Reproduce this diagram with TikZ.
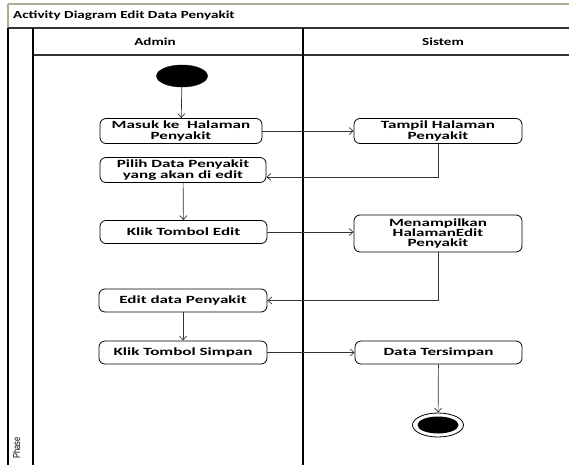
\documentclass[tikz,border=0pt]{standalone}
\usepackage{fontspec}
\usetikzlibrary{arrows.meta,shapes.geometric}
\newfontfamily\lblfont[FakeStretch=1.4]{Carlito}
\newfontfamily\actfont[FakeStretch=1.55]{Carlito}
\newfontfamily\phasefont[FakeStretch=0.75]{Liberation Sans}
\definecolor{frameg}{HTML}{A3B093}
\definecolor{edgec}{HTML}{333333}
\tikzset{
  actbox/.style={draw=black, line width=0.8pt, rounded corners=6pt,
    minimum height=24pt, inner sep=0.5pt, align=center,
    font=\actfont\bfseries\fontsize{11}{10.5}\selectfont},
  lane/.style={line width=1.4pt, black},
  flow/.style={draw=edgec, line width=0.7pt,
    -{Straight Barb[length=4pt,width=7pt]}},
  hdr/.style={font=\lblfont\bfseries\fontsize{10.8}{12}\selectfont, inner sep=0pt}
}
\begin{document}
\begin{tikzpicture}[x=1pt,y=-1pt]
  \useasboundingbox (0,0) rectangle (569,465);
  % swimlane frame
  \draw[frameg, line width=1.4pt] (8,4) -- (569,4);
  \draw[frameg, line width=1.3pt] (8,4) -- (8,28);
  \draw[lane] (8,28) -- (8,465);
  \draw[edgec, line width=1.3pt] (8,28) -- (569,28);
  \draw[edgec, line width=1.1pt] (33,55) -- (569,55);
  \draw[lane] (33,28) -- (33,465);
  \draw[lane] (303,28) -- (303,465);
  % headings
  \node[hdr, anchor=west] (title) at (13,16) {Activity Diagram Edit Data Penyakit};
  \node[hdr] (admin) at (155,42) {Admin};
  \node[hdr] (sistem) at (443,42) {Sistem};
  \node[font=\phasefont\fontsize{10}{11}\selectfont, rotate=90, inner sep=0pt] (phase) at (16.5,448) {Phase};
  % start and end
  \node[draw, fill=black, ellipse, minimum width=51pt, minimum height=22pt, inner sep=0pt] (start) at (182,76) {};
  \node[draw, line width=0.8pt, ellipse, minimum width=51pt, minimum height=24pt, inner sep=0pt] (stop) at (438,425) {};
  \node[fill=black, ellipse, minimum width=41pt, minimum height=17pt, inner sep=0pt] (stopin) at (438,425) {};
  % activities (Admin)
  \node[actbox, minimum width=162pt, minimum height=25pt] (masuk) at (181,131) {Masuk ke\ \ Halaman\\Penyakit};
  \node[actbox, minimum width=166pt, minimum height=25pt] (pilih) at (183,170) {Pilih Data Penyakit\\yang akan di edit};
  \node[actbox, minimum width=167pt, minimum height=23pt] (edit) at (183.5,232) {Klik Tombol Edit};
  \node[actbox, minimum width=168pt, minimum height=23pt] (editdata) at (183,300.5) {Edit data Penyakit};
  \node[actbox, minimum width=168pt, minimum height=23pt] (simpan) at (183,352.5) {Klik Tombol Simpan};
  % activities (Sistem)
  \node[actbox, minimum width=168pt, minimum height=25pt] (tampil) at (438,131) {Tampil Halaman\\Penyakit};
  \node[actbox, minimum width=168pt, minimum height=37pt, font=\actfont\bfseries\fontsize{11}{10}\selectfont] (menampilkan) at (438,233.5) {Menampilkan\\HalamanEdit\\Penyakit};
  \node[actbox, minimum width=167pt, minimum height=23pt] (tersimpan) at (438.5,352.5) {Data Tersimpan};
  % flows
  \draw[flow] (start) -- (masuk);
  \draw[flow] (masuk) -- (tampil);
  \draw[flow] (tampil.south) |- ([yshift=-7pt]pilih.east);
  \draw[flow] (pilih) -- (edit);
  \draw[flow] (edit) -- (edit -| menampilkan.west);
  \draw[flow] (menampilkan.south) |- (editdata.east);
  \draw[flow] (editdata) -- (simpan);
  \draw[flow] (simpan) -- (tersimpan);
  \draw[flow] (tersimpan) -- (stop);
\end{tikzpicture}
\end{document}
